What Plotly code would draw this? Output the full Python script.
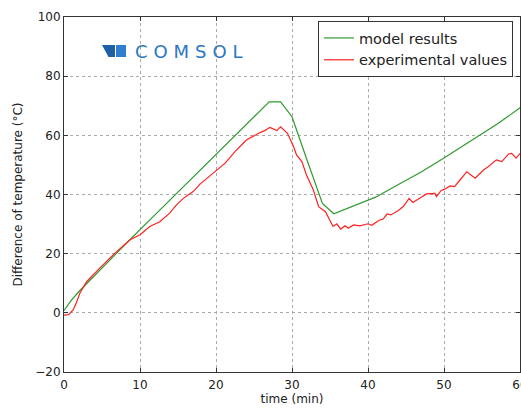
import plotly.graph_objects as go

# model results (green)
t_model = [0, 1, 2, 4, 8, 12, 16, 20, 24, 27, 28.5, 30, 32, 34, 35.5, 38, 41, 44, 47, 50, 54, 57, 60]
y_model = [0.8, 4.4, 7.3, 12.6, 23, 33.2, 43.4, 53.6, 63.8, 71.3, 71.3, 66.3, 51.5, 37, 33.5,
           36.0, 39.1, 43.4, 47.6, 52.3, 59.0, 63.8, 69.3]

# experimental values (red)
t_exp = [0, 0.6, 1.2, 1.6, 2.1, 3, 4.7, 6.7, 8.7, 10, 11.3, 12.6, 13.9, 14.8, 15.7, 17, 17.9,
         18.8, 19.9, 21.2, 22.5, 24, 25.6, 26.4, 27.1, 28, 28.5, 29.4, 30.2, 30.6, 31.3, 31.9,
         32.8, 33.5, 34.4, 35.0, 35.4, 35.9, 36.4, 37, 37.4, 38.1, 38.9, 40, 40.5, 41.4, 42,
         42.5, 43, 44, 44.7, 45.4, 45.9, 46.8, 47.7, 48.8, 49, 49.6, 50.1, 50.8, 51.4, 52.1,
         53, 54.1, 55.2, 55.8, 56.5, 56.9, 57.6, 58.5, 58.9, 59.5, 60]
y_exp = [-0.8, -0.6, 1.0, 3.2, 6.7, 10.6, 15.1, 20.2, 24.7, 26.4, 29.2, 30.8, 33.7, 36.5, 38.7,
         41, 43.5, 45.5, 47.7, 50.6, 54.5, 58.4, 60.7, 61.6, 62.7, 61.6, 62.9, 60.7, 56.2, 53.4,
         51.1, 46.6, 41.6, 35.9, 34.2, 31.5, 29.2, 30.1, 28.3, 29.4, 28.6, 29.7, 29.4, 30.1,
         29.6, 31.2, 31.7, 33.4, 33.1, 34.6, 36.1, 38.7, 37.3, 38.7, 40.2, 40.4, 39.3, 41.3,
         41.8, 42.9, 42.7, 44.9, 47.7, 45.5, 48.3, 49.4, 50.8, 51.7, 51.1, 53.7, 53.9, 52.3, 53.9]

x_ticks = [0, 10, 20, 30, 40, 50, 60]
y_ticks = [-20, 0, 20, 40, 60, 80, 100]

W, H = 521, 408
L, R, T, B = 64, 1, 17, 36


def px(x, y):
    # page pixel -> paper coords
    return (x - L) / (W - L - R), (H - B - y) / (H - T - B)


fig = go.Figure()
fig.add_trace(go.Scatter(x=t_model, y=y_model, mode="lines", name="model results",
                         line=dict(color="#2e9a2e", width=1.2)))
fig.add_trace(go.Scatter(x=t_exp, y=y_exp, mode="lines", name="experimental values",
                         line=dict(color="#ff2020", width=1.2)))

axis_common = dict(showline=True, mirror="ticks", linecolor="#333", linewidth=1,
                   ticks="inside", ticklen=4, tickcolor="#333", automargin=False,
                   ticklabeloverflow="allow",
                   showgrid=True, gridcolor="#aaaaaa", griddash="dot", gridwidth=1,
                   zeroline=False, tickfont=dict(size=12, color="#222"))

fig.update_xaxes(range=[0, 60], tickvals=x_ticks, ticklabelstandoff=2, **axis_common,
                 title=dict(text="time (min)", font=dict(size=12, color="#222"), standoff=0))
fig.update_yaxes(range=[-20, 100], tickvals=y_ticks, **axis_common,
                 title=dict(text="Difference of temperature (°C)", font=dict(size=12, color="#222"),
                            standoff=10))

# COMSOL logo
x0, y0 = px(102, 45)
x1, _ = px(115, 45)
x2, y2 = px(108.5, 57)
fig.add_shape(type="path", xref="paper", yref="paper",
              path=f"M {x0},{y0} L {x1},{y0} L {x1},{y2} L {x2},{y2} Z",
              fillcolor="#1f5fa8", line=dict(width=0))
a0, b0 = px(116, 45)
a1, b1 = px(126, 57)
fig.add_shape(type="rect", xref="paper", yref="paper", x0=a0, y0=b0, x1=a1, y1=b1,
              fillcolor="#2f7fd0", line=dict(width=0))
lx, ly = px(189, 51.5)
fig.add_annotation(xref="paper", yref="paper", x=lx, y=ly, showarrow=False,
                   xanchor="center", yanchor="middle",
                   text="C\u2004O\u2004M\u2004S\u2004O\u2004L",
                   font=dict(family="DejaVu Sans", size=18, color="#2a78c0"))

lgx, lgy = px(513, 21)
fig.update_layout(
    width=W, height=H,
    margin=dict(l=L, r=R, t=T, b=B, autoexpand=False),
    plot_bgcolor="white", paper_bgcolor="white",
    font=dict(family="DejaVu Sans", size=12, color="#222"),
    legend=dict(x=lgx, y=lgy, xanchor="right", yanchor="top",
                bordercolor="#333", borderwidth=1, bgcolor="white",
                font=dict(size=14.5, color="#222")),
)

# drop the default body margin so the figure fills the window
fig.write_html("out.html", config={"displayModeBar": False},
               post_script="document.body.style.margin='0';document.body.style.overflow='hidden';")
